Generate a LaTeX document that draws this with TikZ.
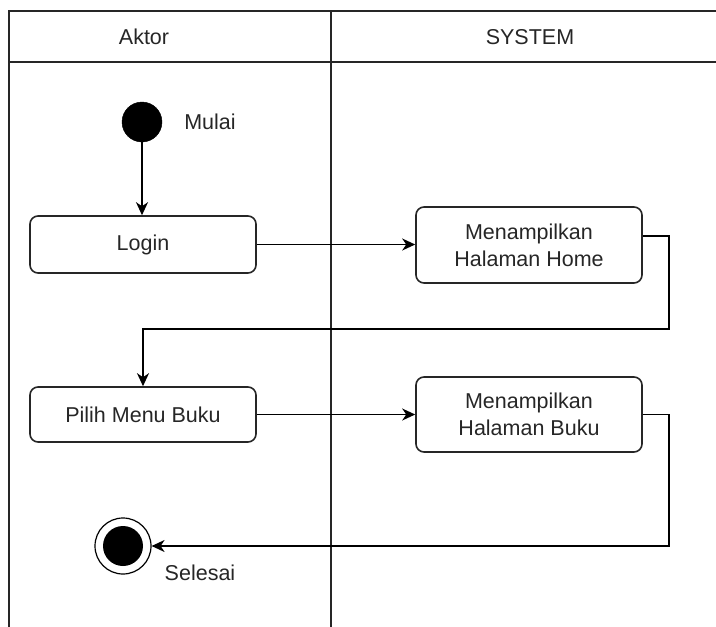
\documentclass[tikz,border=0pt]{standalone}
\usepackage{fontspec}
\setmainfont{Liberation Sans}
\usepackage{tikz}
\usetikzlibrary{
    arrows.meta,
    calc,
    positioning
}
\tikzset{actbox/.style={rounded corners=8pt, draw=black!85, line width=1.6pt, align=center, inner sep=2pt, text=black!85}}
\tikzset{startdot/.style={circle, draw=black, fill=black, minimum size=40pt, inner sep=0pt}}
\tikzset{enddot/.style={circle, draw=black, line width=1.2pt, minimum size=56pt, inner sep=0pt}}
\tikzset{flow/.style={line width=1.4pt, -{Stealth[length=13pt, width=12pt, inset=4pt]}}}
\tikzset{lane/.style={line width=1.6pt, draw=black!85}}
\tikzset{lbl/.style={text=black!85, inner sep=0pt}}

\begin{document}
\begin{tikzpicture}[x=1pt, y=-1pt, font=\fontsize{21.5}{27}\selectfont]
                        \useasboundingbox (0,0) rectangle (716,627);
                        % swimlanes
                        \draw[lane]
                        (9,627) -- (9,11) -- (716,11)
                        (9,62) -- (716,62)
                        (331,11) -- (331,627);
                        \node[lbl] (hdra) at (144,37) {Aktor};
                        \node[lbl] (hdrs) at (530,37) {SYSTEM};
                        % actor side
                        \node[startdot] (start) at (142,122) {};
                        \node[lbl] (mulai) at (210,122) {Mulai};
                        \node[actbox, minimum width=226pt, minimum height=57pt] (login) at (143,244.5) {Login};
                        \node[actbox, minimum width=226pt, minimum height=55pt] (menu) at (143,414.5) {Pilih Menu Buku};
                        \node[enddot] (finish) at (123,546) {};
                        \fill (finish) circle (20pt);
                        \node[lbl] (selesai) at (200,573) {Selesai};
                        % system side
                        \node[actbox, minimum width=226pt, minimum height=76pt] (home) at (529,245) {Menampilkan\\Halaman Home};
                        \node[actbox, minimum width=226pt, minimum height=75pt] (buku) at (529,414.5) {Menampilkan\\Halaman Buku};
                        \draw[flow]
                        (start) -- (start |- login.north);
                        \draw[flow]
                        (login.east) -- (login.east -| home.west);
                        \draw[flow]
                        ([yshift=9pt]home.east) -| (669,329) -| (menu.north);
                        \draw[flow]
                        (menu.east) -- (menu.east -| buku.west);
                        \draw[flow]
                        (buku.east) -| (669,546) -- (finish.east);
                    \end{tikzpicture}
\end{document}
